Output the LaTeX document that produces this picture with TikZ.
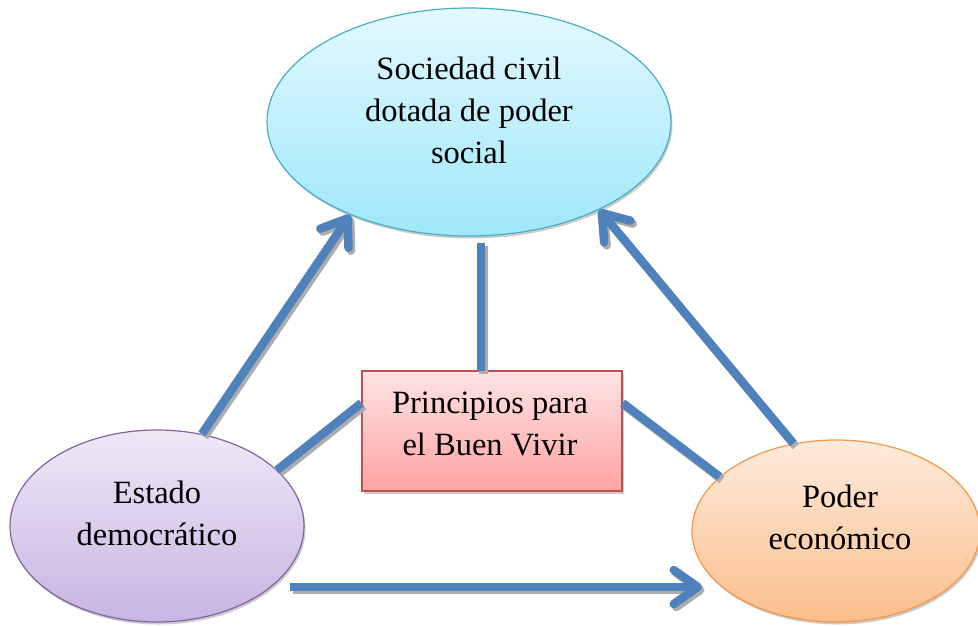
\documentclass[tikz,border=0pt]{standalone}
\usepackage{fontspec}
\setmainfont{Liberation Serif}
\usetikzlibrary{shapes.geometric,arrows.meta,shadows}
\definecolor{arrowblue}{HTML}{4F81BD}
\definecolor{scborder}{HTML}{4BACC6}
\definecolor{sctop}{HTML}{E3F9FE}
\definecolor{scbot}{HTML}{9EE7FA}
\definecolor{estborder}{HTML}{8064A2}
\definecolor{esttop}{HTML}{EEE9F6}
\definecolor{estbot}{HTML}{C7B4E2}
\definecolor{peborder}{HTML}{F79646}
\definecolor{petop}{HTML}{FDEBDD}
\definecolor{pebot}{HTML}{FBBE8C}
\definecolor{bxborder}{HTML}{C0504D}
\definecolor{bxtop}{HTML}{FFE3E3}
\definecolor{bxbot}{HTML}{FFA3A3}
\begin{document}
\begin{tikzpicture}[x=1pt,y=1pt,
  bubble/.style={ellipse, draw, line width=1.2pt, inner sep=0pt,
    drop shadow={shadow xshift=1.5pt,shadow yshift=-2.5pt,opacity=0.4}},
  lbl/.style={align=center, font=\fontsize{32.5}{42}\selectfont, inner sep=0pt},
  conn/.style={draw=arrowblue, line width=8.5pt},
  connshadow/.style={draw=black!32, line width=8.5pt},
  barb/.style={-{Straight Barb[length=24pt,width=34pt,round]}}
]
\useasboundingbox (0,0) rectangle (978,-625);

% shapes
\node[bubble, draw=scborder, top color=sctop, bottom color=scbot,
  minimum width=404pt, minimum height=228pt] (sc) at (469,-122) {};
\node[bubble, draw=estborder, top color=esttop, bottom color=estbot,
  minimum width=294pt, minimum height=192pt] (est) at (157,-526) {};
\node[bubble, draw=peborder, top color=petop, bottom color=pebot,
  minimum width=288pt, minimum height=182pt] (pe) at (836,-531) {};
\node[rectangle, draw=bxborder, line width=1.2pt, top color=bxtop, bottom color=bxbot,
  minimum width=260pt, minimum height=120pt,
  drop shadow={shadow xshift=1.5pt,shadow yshift=-2.5pt,opacity=0.4}] (bx) at (492,-431) {};

% texts
\node[lbl] (sctext) at (469,-110) {Sociedad civil\\dotada de poder\\social};
\node[lbl] (esttext) at (157,-513) {Estado\\democrático};
\node[lbl] (petext) at (840,-517) {Poder\\económico};
\node[lbl] (bxtext) at (490,-424) {Principios para\\el Buen Vivir};

% connector end points
\coordinate (vtop) at (481,-243);
\coordinate (vbot) at (481,-371);
\coordinate (bstart) at (290,-587);
\coordinate (bend) at (702,-587);

% connector shadows
\begin{scope}[transform canvas={shift={(2.5pt,-3pt)}}]
\draw[connshadow, barb] (est.64) -- (sc.218);
\draw[connshadow, barb] (pe.116) -- (sc.326);
\draw[connshadow, barb] (bstart) -- (bend);
\draw[connshadow] (vtop) -- (vbot);
\draw[connshadow] (est.25) -- ([yshift=28pt]bx.west);
\draw[connshadow] ([yshift=28pt]bx.east) -- (pe.155);
\end{scope}

% connectors
\draw[conn, barb] (est.64) -- (sc.218);
\draw[conn, barb] (pe.116) -- (sc.326);
\draw[conn, barb] (bstart) -- (bend);
\draw[conn] (vtop) -- (vbot);
\draw[conn] (est.25) -- ([yshift=28pt]bx.west);
\draw[conn] ([yshift=28pt]bx.east) -- (pe.155);
\end{tikzpicture}
\end{document}
